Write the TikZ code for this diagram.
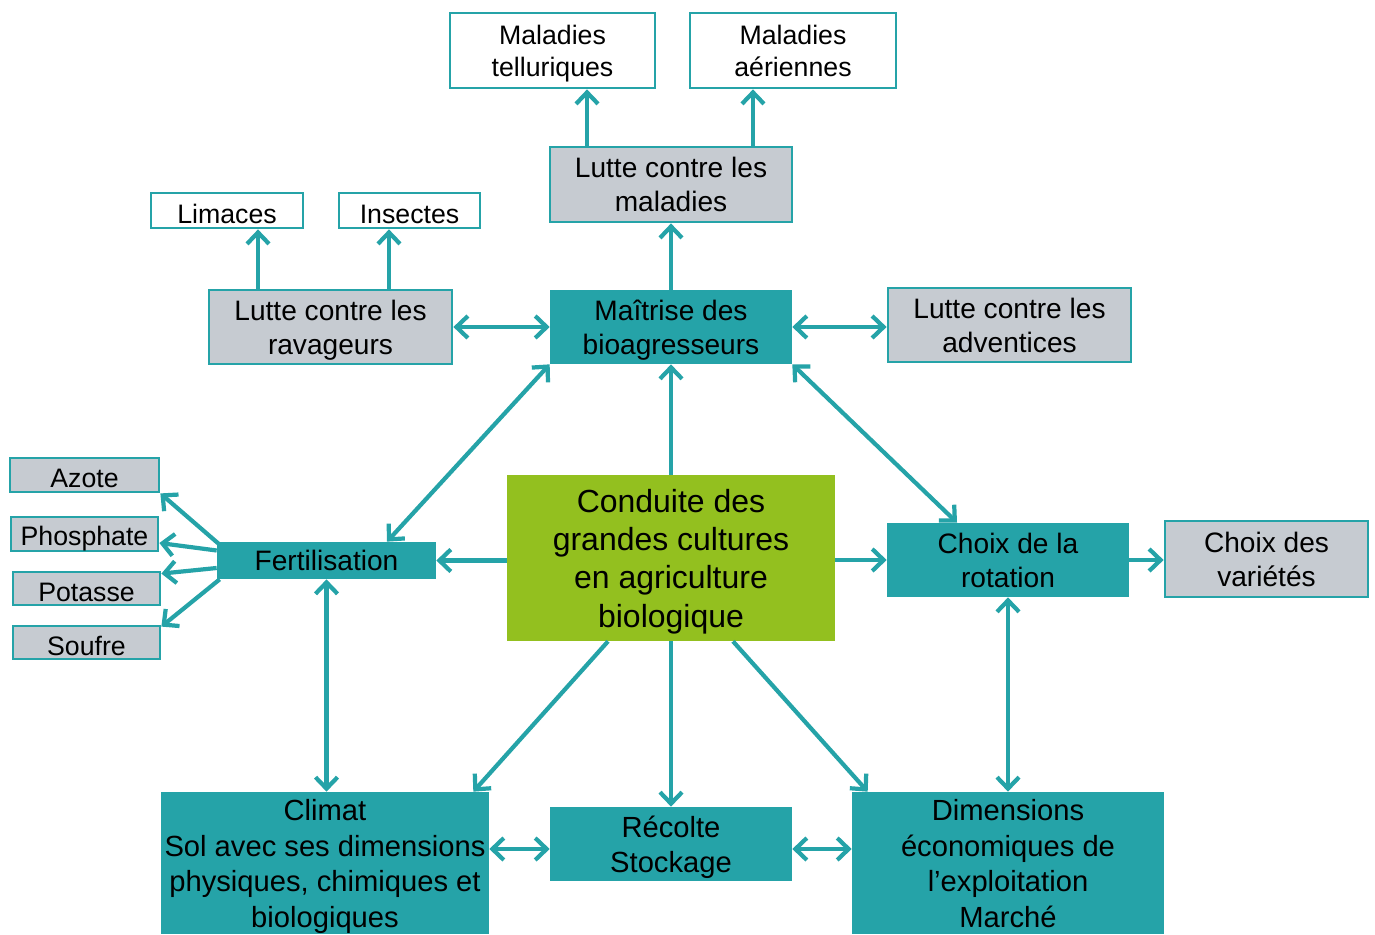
\documentclass[tikz,border=0pt]{standalone}
\usepackage{fontspec}
\setmainfont{Liberation Sans}
\usetikzlibrary{arrows.meta}
\definecolor{tealc}{RGB}{37,163,168}
\definecolor{grayc}{RGB}{198,203,209}
\definecolor{greenc}{RGB}{147,192,31}
\newcommand{\topS}{\rule{0pt}{0.95em}}
\newcommand{\topT}{\rule{0pt}{1.05em}}
\newcommand{\botS}{\rule[-0.21em]{0pt}{0pt}}
\newcommand{\botT}{\rule[-0.1em]{0pt}{0pt}}
\tikzset{
  base/.style={rectangle, inner sep=0pt, align=center, text=black},
  whitebox/.style={base, draw=tealc, line width=1.6pt, fill=white, font=\fontsize{15.2}{18}\selectfont},
  graybox/.style={base, draw=tealc, line width=1.6pt, fill=grayc, font=\fontsize{16}{19.3}\selectfont},
  smallgray/.style={base, draw=tealc, line width=1.6pt, fill=grayc, font=\fontsize{15.2}{18}\selectfont},
  tealbox/.style={base, fill=tealc, font=\fontsize{16}{19.6}\selectfont},
  bigteal/.style={base, fill=tealc, font=\fontsize{16.6}{20.2}\selectfont},
  greenbox/.style={base, fill=greenc, font=\fontsize{18.2}{21.8}\selectfont},
  arr/.style={draw=tealc, line width=2.4pt, -{Straight Barb[length=6.5pt,width=12.5pt]}},
  darr/.style={draw=tealc, line width=2.4pt, {Straight Barb[length=6.5pt,width=12.5pt]}-{Straight Barb[length=6.5pt,width=12.5pt]}}
}
\begin{document}
\begin{tikzpicture}[x=0.02cm,y=-0.02cm]
\useasboundingbox (0,0) rectangle (1375,935);
% nodes
\node[whitebox, minimum width=4.1cm, minimum height=1.5cm] (mt) at (552.5,50.5) {\topS Maladies\\telluriques\botS};
\node[whitebox, minimum width=4.12cm, minimum height=1.5cm] (ma) at (793,50.5) {\topS Maladies\\aériennes\botS};
\node[graybox, minimum width=4.84cm, minimum height=1.5cm] (lm) at (671,184.5) {\topS Lutte contre les\\maladies\botS};
\node[whitebox, minimum width=3.04cm, minimum height=0.7cm] (lim) at (227,210.5) {\topT Limaces\botT};
\node[whitebox, minimum width=2.82cm, minimum height=0.7cm] (ins) at (409.5,210.5) {\topT Insectes\botT};
\node[graybox, minimum width=4.86cm, minimum height=1.48cm] (lr) at (330.5,327) {\topS Lutte contre les\\ravageurs\botS};
\node[tealbox, minimum width=4.84cm, minimum height=1.48cm] (mb) at (671,327) {\topS Maîtrise des\\bioagresseurs\botS};
\node[graybox, minimum width=4.86cm, minimum height=1.48cm] (la) at (1009.5,325) {\topS Lutte contre les\\adventices\botS};
\node[smallgray, minimum width=2.98cm, minimum height=0.68cm] (az) at (84.5,475) {\topT Azote\botT};
\node[smallgray, minimum width=2.94cm, minimum height=0.68cm] (ph) at (84.5,534) {\topT Phosphate\botT};
\node[smallgray, minimum width=2.94cm, minimum height=0.66cm] (po) at (86.5,588.5) {\topT Potasse\botT};
\node[smallgray, minimum width=2.94cm, minimum height=0.66cm] (so) at (86.5,642.5) {\topT Soufre\botT};
\node[tealbox, minimum width=4.38cm, minimum height=0.74cm] (fe) at (326.5,560.5) {\topS Fertilisation\botS};
\node[greenbox, minimum width=6.56cm, minimum height=3.32cm] (co) at (671,558) {\topS Conduite des\\grandes cultures\\en agriculture\\biologique\botS};
\node[tealbox, minimum width=4.84cm, minimum height=1.48cm] (cr) at (1008,560) {\topS Choix de la\\rotation\botS};
\node[graybox, minimum width=4.06cm, minimum height=1.52cm] (cv) at (1266.5,559) {\topS Choix des\\variétés\botS};
\node[bigteal, minimum width=6.56cm, minimum height=2.84cm] (cl) at (325,863) {\topS Climat\\Sol avec ses dimensions\\physiques, chimiques et\\biologiques\botS};
\node[bigteal, minimum width=4.84cm, minimum height=1.48cm] (re) at (671,844) {\topS Récolte\\Stockage\botS};
\node[bigteal, minimum width=6.24cm, minimum height=2.84cm] (di) at (1008,863) {\topS Dimensions\\économiques de\\l’exploitation\\Marché\botS};
% connectors
\draw[arr] ([xshift=-1.68cm]lm.north) -- ([xshift=-1.68cm]lm.north |- mt.south);
\draw[arr] ([xshift=1.64cm]lm.north) -- ([xshift=1.64cm]lm.north |- ma.south);
\draw[arr] (mb.north) -- (lm.south);
\draw[arr] ([xshift=-1.45cm]lr.north) -- ([xshift=-1.45cm]lr.north |- lim.south);
\draw[arr] ([xshift=1.17cm]lr.north) -- ([xshift=1.17cm]lr.north |- ins.south);
\draw[darr] (lr.east) -- (mb.west);
\draw[darr] (mb.east) -- (mb.east -| la.west);
\draw[darr] (mb.south west) -- ([xshift=1.21cm]fe.north);
\draw[darr] (mb.south east) -- ([xshift=-1.02cm]cr.north);
\draw[arr] (co.north) -- (mb.south);
\draw[arr] (fe.east -| co.west) -- (fe.east);
\draw[arr] (cr.west -| co.east) -- (cr.west);
\draw[arr] (cr.east) -- (cr.east -| cv.west);
\draw[darr] (cr.south) -- (di.north);
\draw[darr] (fe.south) -- (fe.south |- cl.north);
\draw[arr] ([xshift=-1.26cm]co.south) -- ([xshift=-0.32cm]cl.north east);
\draw[arr] (co.south) -- (re.north);
\draw[arr] ([xshift=1.24cm]co.south) -- ([xshift=0.32cm]di.north west);
\draw[darr] ([yshift=-0.1cm]re.west -| cl.east) -- ([yshift=-0.1cm]re.west);
\draw[darr] ([yshift=-0.1cm]re.east) -- ([yshift=-0.1cm]re.east -| di.west);
\draw[arr] ([xshift=0.06cm,yshift=-0.06cm]fe.north west) -- (az.south east);
\draw[arr] ([yshift=0.2cm]fe.west) -- ([yshift=-0.18cm]ph.east);
\draw[arr] ([yshift=-0.15cm]fe.west) -- ([yshift=-0.06cm]po.north east);
\draw[arr] ([xshift=0.06cm]fe.south west) -- ([yshift=-0.04cm]so.north east);
\end{tikzpicture}
\end{document}
